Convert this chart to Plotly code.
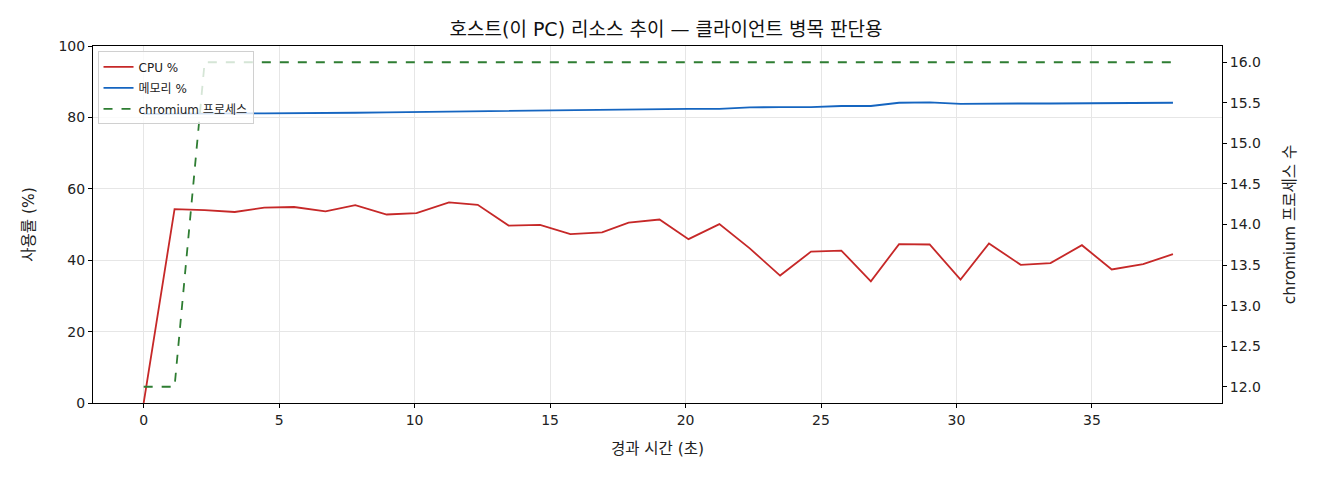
import plotly.graph_objects as go

# 경과 시간 (초)
elapsed = [0, 1.14, 2.25, 3.36, 4.45, 5.55, 6.71, 7.81, 8.97, 10.07, 11.27, 12.33,
           13.47, 14.63, 15.75, 16.92, 17.9, 19.04, 20.11, 21.25, 22.37, 23.49,
           24.63, 25.75, 26.84, 27.88, 29.01, 30.15, 31.2, 32.37, 33.47, 34.63,
           35.73, 36.89, 37.99]

cpu = [0, 54.3, 54.0, 53.5, 54.7, 54.9, 53.7, 55.4, 52.8, 53.2, 56.2, 55.5,
       49.7, 49.9, 47.3, 47.8, 50.5, 51.4, 45.9, 50.1, 43.3, 35.7,
       42.4, 42.7, 34.1, 44.5, 44.4, 34.6, 44.7, 38.7, 39.2, 44.2,
       37.4, 38.9, 41.7]

memory = [81.0, 81.1, 81.1, 81.1, 81.1, 81.1, 81.1, 81.3, 81.4, 81.5, 81.7, 81.8,
          82.0, 82.0, 82.1, 82.1, 82.2, 82.3, 82.4, 82.4, 82.8, 82.9,
          82.9, 83.2, 83.2, 84.1, 84.2, 83.8, 83.9, 83.9, 83.9, 84.0,
          84.0, 84.0, 84.1]

chromium = [12, 12] + [16] * 33

font = "DejaVu Sans, Noto Sans CJK KR"

fig = go.Figure()
fig.add_trace(go.Scatter(x=elapsed, y=cpu, mode="lines", name="CPU %", legendgroup="a",
                         line=dict(color="#c62828", width=1.8)))
fig.add_trace(go.Scatter(x=elapsed, y=memory, mode="lines", name="메모리 %", legendgroup="b",
                         line=dict(color="#1565c0", width=1.8)))
fig.add_trace(go.Scatter(x=elapsed, y=chromium, mode="lines", name="chromium 프로세스",
                         legendgroup="c",
                         line=dict(color="#2e7d32", width=1.8, dash="dash"),
                         yaxis="y2"))

axis_common = dict(showline=True, linecolor="black", linewidth=1,
                   ticks="outside", ticklen=4, tickcolor="black",
                   tickfont=dict(size=14, color="#222"), zeroline=False)

fig.update_layout(
    width=1320, height=480,
    margin=dict(l=85, r=106, t=38, b=85),
    paper_bgcolor="white", plot_bgcolor="white",
    font=dict(family=font, color="#222"),
    title=dict(text="호스트(이 PC) 리소스 추이 — 클라이언트 병목 판단용",
               x=0.4985, xanchor="center", y=0.956, yanchor="middle",
               font=dict(size=19, color="#111")),
    xaxis=dict(range=[-1.87, 39.8], tickvals=[0, 5, 10, 15, 20, 25, 30, 35],
               showgrid=True, gridcolor="#e6e6e6", mirror=True,
               title=dict(text="경과 시간 (초)", font=dict(size=15.5), standoff=16),
               **axis_common),
    yaxis=dict(range=[0, 100], tickvals=[0, 20, 40, 60, 80, 100],
               showgrid=True, gridcolor="#e6e6e6",
               title=dict(text="사용률 (%)", font=dict(size=15.5), standoff=20),
               **axis_common),
    yaxis2=dict(range=[11.8, 16.2], overlaying="y", side="right",
                tickvals=[12, 12.5, 13, 13.5, 14, 14.5, 15, 15.5, 16],
                ticktext=["12.0", "12.5", "13.0", "13.5", "14.0", "14.5",
                          "15.0", "15.5", "16.0"],
                showgrid=False,
                title=dict(text="chromium 프로세스 수", font=dict(size=15.5), standoff=24),
                **axis_common),
    legend=dict(x=0.004, y=0.985, xanchor="left", yanchor="top",
                bgcolor="rgba(255,255,255,0.8)", bordercolor="#d0d0d0", borderwidth=1,
                font=dict(size=12), tracegroupgap=2, itemwidth=30),
    showlegend=True,
)

fig.write_html("out.html")
